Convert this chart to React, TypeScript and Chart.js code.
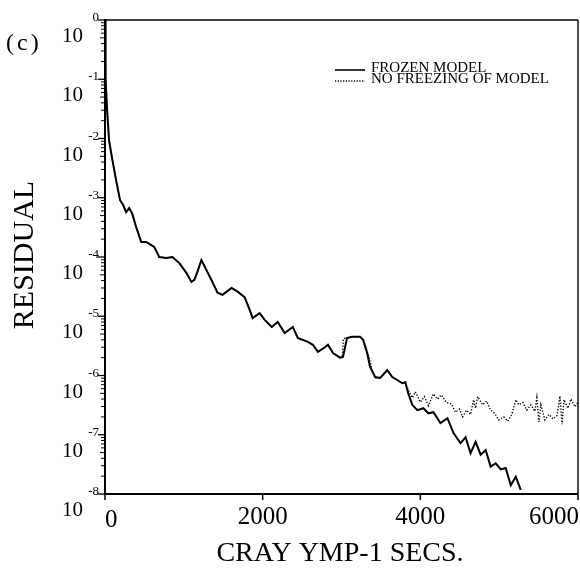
import React, { useEffect, useRef } from "react";
import { Chart, registerables } from "chart.js";

Chart.register(...registerables);

const SERIF = '"Liberation Serif", "Times New Roman", serif';

const xTickValues = [0, 2000, 4000, 6000];
const xTickLabels = ["0", "2000", "4000", "6000"];
const yDecades = [0, -1, -2, -3, -4, -5, -6, -7, -8];

const frozenX = [0, 5, 10, 25, 51, 89, 140, 191, 229, 268, 306, 344, 395, 459, 522, 624, 688, 777, 854, 943, 1032, 1096, 1134, 1172, 1223, 1287, 1350, 1427, 1491, 1605, 1682, 1771, 1835, 1873, 1962, 2026, 2115, 2191, 2280, 2382, 2446, 2574, 2637, 2701, 2790, 2828, 2892, 2981, 3019, 3070, 3134, 3236, 3274, 3325, 3363, 3427, 3491, 3580, 3644, 3707, 3771, 3809, 3847, 3898, 3962, 4039, 4102, 4166, 4255, 4344, 4421, 4510, 4574, 4637, 4701, 4765, 4829, 4892, 4956, 5020, 5083, 5147, 5211, 5274];
const frozenY = [1.0, 0.2, 0.1, 3.3e-2, 9.4e-3, 4.7e-3, 2.0e-3, 9.1e-4, 7.6e-4, 5.7e-4, 6.7e-4, 5.5e-4, 3.2e-4, 1.8e-4, 1.8e-4, 1.48e-4, 1.0e-4, 9.6e-5, 1.0e-4, 7.9e-5, 5.4e-5, 3.8e-5, 4.1e-5, 5.6e-5, 8.9e-5, 6.0e-5, 4.1e-5, 2.5e-5, 2.3e-5, 3.0e-5, 2.6e-5, 2.1e-5, 1.28e-5, 9.3e-6, 1.13e-5, 8.7e-6, 6.6e-6, 8.0e-6, 5.2e-6, 6.6e-6, 4.3e-6, 3.7e-6, 3.3e-6, 2.5e-6, 3.0e-6, 3.3e-6, 2.4e-6, 2.0e-6, 2.05e-6, 4.3e-6, 4.5e-6, 4.5e-6, 4.0e-6, 2.4e-6, 1.4e-6, 9.4e-7, 9.1e-7, 1.23e-6, 9.4e-7, 8.4e-7, 7.4e-7, 7.7e-7, 5.0e-7, 3.2e-7, 2.6e-7, 2.8e-7, 2.3e-7, 2.4e-7, 1.58e-7, 1.9e-7, 1.07e-7, 7.2e-8, 9.1e-8, 4.9e-8, 7.6e-8, 4.6e-8, 5.5e-8, 2.9e-8, 3.3e-8, 2.6e-8, 2.75e-8, 1.4e-8, 1.95e-8, 1.17e-8];

const noFreezeX = [0, 5, 10, 25, 51, 89, 140, 191, 229, 268, 306, 344, 395, 459, 522, 624, 688, 777, 854, 943, 1032, 1096, 1134, 1172, 1223, 1287, 1350, 1427, 1491, 1605, 1682, 1771, 1835, 1873, 1962, 2026, 2115, 2191, 2280, 2382, 2446, 2574, 2637, 2701, 2790, 2828, 2892, 2981, 3010, 3025, 3134, 3236, 3274, 3310, 3350, 3390, 3440, 3491, 3580, 3644, 3707, 3771, 3809, 3847, 3898, 3937, 4000, 4051, 4102, 4166, 4217, 4268, 4332, 4395, 4446, 4497, 4535, 4586, 4637, 4676, 4701, 4727, 4790, 4841, 4892, 4943, 4994, 5058, 5109, 5160, 5211, 5249, 5300, 5351, 5402, 5453, 5478, 5504, 5529, 5580, 5631, 5682, 5733, 5771, 5797, 5822, 5873, 5911, 5962, 6000];
const noFreezeY = [1.0, 0.2, 0.1, 3.3e-2, 9.4e-3, 4.7e-3, 2.0e-3, 9.1e-4, 7.6e-4, 5.7e-4, 6.7e-4, 5.5e-4, 3.2e-4, 1.8e-4, 1.8e-4, 1.48e-4, 1.0e-4, 9.6e-5, 1.0e-4, 7.9e-5, 5.4e-5, 3.8e-5, 4.1e-5, 5.6e-5, 8.9e-5, 6.0e-5, 4.1e-5, 2.5e-5, 2.3e-5, 3.0e-5, 2.6e-5, 2.1e-5, 1.28e-5, 9.3e-6, 1.13e-5, 8.7e-6, 6.6e-6, 8.0e-6, 5.2e-6, 6.6e-6, 4.3e-6, 3.7e-6, 3.3e-6, 2.5e-6, 3.0e-6, 3.3e-6, 2.4e-6, 2.0e-6, 2.1e-6, 4.2e-6, 4.5e-6, 4.5e-6, 4.0e-6, 3.0e-6, 2.0e-6, 1.2e-6, 9.0e-7, 9.1e-7, 1.23e-6, 9.4e-7, 8.4e-7, 7.4e-7, 7.7e-7, 5.7e-7, 4.2e-7, 5.3e-7, 3.55e-7, 4.4e-7, 3.1e-7, 4.9e-7, 4.0e-7, 4.7e-7, 3.5e-7, 3.3e-7, 2.4e-7, 2.7e-7, 2.0e-7, 2.6e-7, 2.2e-7, 3.9e-7, 2.8e-7, 4.4e-7, 3.2e-7, 3.7e-7, 2.6e-7, 2.3e-7, 1.78e-7, 2.0e-7, 1.7e-7, 2.2e-7, 3.9e-7, 3.2e-7, 3.5e-7, 2.6e-7, 3.2e-7, 2.5e-7, 4.2e-7, 1.65e-7, 3.2e-7, 1.78e-7, 2.2e-7, 1.85e-7, 2.1e-7, 4.5e-7, 1.5e-7, 3.9e-7, 2.8e-7, 4.0e-7, 2.95e-7, 3.55e-7];

const legendLabels = ["FROZEN MODEL", "NO FREEZING OF MODEL"];
const xTitle = "CRAY YMP-1 SECS.";
const yTitle = "RESIDUAL";
const panelLabel = "(c)";

const decoPlugin = {
  id: "deco",
  afterDraw(chart: any) {
    const { ctx, chartArea: a, scales } = chart;
    const x = scales.x;
    const y = scales.y;
    ctx.save();
    ctx.strokeStyle = "#000";
    ctx.fillStyle = "#000";
    ctx.setLineDash([]);
    const line = (x1: number, y1: number, x2: number, y2: number, w: number) => {
      ctx.lineWidth = w;
      ctx.beginPath();
      ctx.moveTo(x1, y1);
      ctx.lineTo(x2, y2);
      ctx.stroke();
    };
    // frame
    line(a.left, a.top, a.right, a.top, 1.6);
    line(a.right, a.top, a.right, a.bottom, 1.4);
    line(a.left, a.bottom, a.right, a.bottom, 1.8);
    line(a.left, a.top - 1, a.left, a.bottom + 1, 2);

    // y ticks
    for (const e of yDecades) {
      const py = y.getPixelForValue(Math.pow(10, e));
      line(a.left - 7, py, a.left, py, 1.3);
      if (e > -8) {
        for (let m = 2; m <= 9; m++) {
          const pm = y.getPixelForValue(m * Math.pow(10, e - 1));
          line(a.left - (m === 5 ? 5 : 4), pm, a.left, pm, 1);
        }
      }
      ctx.font = `21px ${SERIF}`;
      ctx.textAlign = "right";
      ctx.textBaseline = "alphabetic";
      ctx.fillText("10", 83, py + 22);
      ctx.font = `13px ${SERIF}`;
      ctx.fillText(String(e), 99, py + 1);
    }

    // x ticks
    ctx.font = `25px ${SERIF}`;
    ctx.textBaseline = "alphabetic";
    xTickValues.forEach((v, i) => {
      const px = x.getPixelForValue(v);
      line(px, a.bottom, px, a.bottom + 6, 1.5);
      if (i === 0) {
        ctx.textAlign = "left";
        ctx.fillText(xTickLabels[i], px, 527);
      } else if (i === xTickValues.length - 1) {
        ctx.textAlign = "right";
        ctx.fillText(xTickLabels[i], px + 1, 524);
      } else {
        ctx.textAlign = "center";
        ctx.fillText(xTickLabels[i], px, 524);
      }
    });

    // titles
    ctx.font = `28px ${SERIF}`;
    ctx.textAlign = "center";
    ctx.fillText(xTitle, 340, 561);

    ctx.save();
    ctx.translate(33, 255);
    ctx.rotate(-Math.PI / 2);
    ctx.font = `30px ${SERIF}`;
    ctx.textAlign = "center";
    ctx.fillText(yTitle, 0, 0);
    ctx.restore();

    ctx.font = `24px ${SERIF}`;
    ctx.textAlign = "left";
    (ctx as any).letterSpacing = "3px";
    ctx.fillText(panelLabel, 6, 50);
    (ctx as any).letterSpacing = "0px";

    // legend
    line(335, 70, 365, 70, 1.6);
    ctx.setLineDash([1.2, 1.5]);
    line(335, 81, 365, 81, 1.3);
    ctx.setLineDash([]);
    ctx.font = `15px ${SERIF}`;
    ctx.textAlign = "left";
    ctx.fillText(legendLabels[0], 371, 72);
    ctx.fillText(legendLabels[1], 371, 83);
    ctx.restore();
  },
};

export default function App() {
  const ref = useRef<HTMLCanvasElement | null>(null);
  useEffect(() => {
    if (!ref.current) return;
    const chart = new Chart(ref.current, {
      type: "line",
      data: {
        datasets: [
          {
            label: legendLabels[1],
            data: noFreezeX.map((v, i) => ({ x: v, y: noFreezeY[i] })),
            borderColor: "#000",
            borderWidth: 1.4,
            borderDash: [1.3, 1.7],
            pointRadius: 0,
            tension: 0,
            fill: false,
          },
          {
            label: legendLabels[0],
            data: frozenX.map((v, i) => ({ x: v, y: frozenY[i] })),
            borderColor: "#000",
            borderWidth: 2,
            pointRadius: 0,
            tension: 0,
            fill: false,
          },
        ],
      },
      options: {
        animation: false,
        responsive: false,
        devicePixelRatio: 1,
        layout: { padding: { left: 105, right: 2, top: 20, bottom: 87 } },
        plugins: { legend: { display: false }, tooltip: { enabled: false } },
        scales: {
          x: { type: "linear", min: 0, max: 6000, display: false },
          y: { type: "logarithmic", min: 1e-8, max: 1, display: false },
        },
      },
      plugins: [decoPlugin],
    });
    return () => chart.destroy();
  }, []);
  return (
    <div style={{ position: "fixed", left: 0, top: 0, width: 580, height: 581, background: "#fff" }}>
      <canvas ref={ref} width={580} height={581} />
    </div>
  );
}
